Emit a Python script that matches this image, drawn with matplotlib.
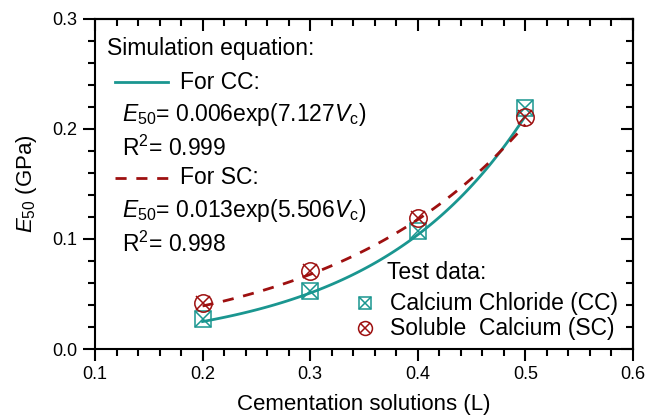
import matplotlib.pyplot as plt
import numpy as np
from matplotlib.ticker import MultipleLocator

plt.rcParams['font.family'] = ['Liberation Sans', 'DejaVu Sans']
plt.rcParams['mathtext.fontset'] = 'custom'
plt.rcParams['mathtext.rm'] = 'Liberation Sans'
plt.rcParams['mathtext.it'] = 'Liberation Sans:italic'

# test data
volume = [0.2, 0.3, 0.4, 0.5]
e50_cc = [0.027, 0.053, 0.107, 0.219]
e50_sc = [0.042, 0.071, 0.119, 0.211]

# fitted equations E50 = a*exp(b*Vc)
fit_cc = [0.006, 7.127]
fit_sc = [0.013, 5.506]

teal = '#1a9690'
dred = '#9e1010'

fig = plt.figure(figsize=(6.62, 4.19), dpi=100)
ax = fig.add_axes([0.1435, 0.167, 0.8125, 0.788])

xx = np.linspace(volume[0], volume[-1], 100)
ax.plot(xx, fit_cc[0] * np.exp(fit_cc[1] * xx), color=teal, lw=2)
ax.plot(xx, fit_sc[0] * np.exp(fit_sc[1] * xx), color=dred, lw=2, dashes=(4, 3.5))

def box_x(axis, x, y, c, ms, **kw):
    axis.plot(x, y, ls='none', marker='s', ms=ms, mfc='none', mec=c, mew=1.1, **kw)
    axis.plot(x, y, ls='none', marker='x', ms=ms, mec=c, mew=1.1, **kw)

def circ_x(axis, x, y, c, ms, **kw):
    axis.plot(x, y, ls='none', marker='o', ms=ms, mfc='none', mec=c, mew=1.1, **kw)
    axis.plot(x, y, ls='none', marker='x', ms=ms * 0.78, mec=c, mew=1.1, **kw)

box_x(ax, volume, e50_cc, teal, 11.5)
circ_x(ax, volume, e50_sc, dred, 12.5)

ax.set_xlim(0.1, 0.6)
ax.set_ylim(0, 0.3)
ax.xaxis.set_minor_locator(MultipleLocator(0.02))
ax.yaxis.set_minor_locator(MultipleLocator(0.02))
ax.set_xticks([0.1, 0.2, 0.3, 0.4, 0.5, 0.6], ['0.1', '0.2', '0.3', '0.4', '0.5', '0.6'])
ax.set_yticks([0.0, 0.1, 0.2, 0.3], ['0.0', '0.1', '0.2', '0.3'])
ax.tick_params(which='major', direction='out', length=8.5, width=1.5, labelsize=13, pad=4)
ax.tick_params(which='minor', direction='out', length=5, width=1.5)
for s in ax.spines.values():
    s.set_linewidth(1.5)

top = ax.secondary_xaxis('top')
top.xaxis.set_major_locator(MultipleLocator(0.1))
top.xaxis.set_minor_locator(MultipleLocator(0.02))
top.tick_params(which='major', direction='in', length=8.5, width=1.5, labeltop=False)
top.tick_params(which='minor', direction='in', length=5, width=1.5)
right = ax.secondary_yaxis('right')
right.yaxis.set_major_locator(MultipleLocator(0.1))
right.yaxis.set_minor_locator(MultipleLocator(0.02))
right.tick_params(which='major', direction='in', length=8.5, width=1.5, labelright=False)
right.tick_params(which='minor', direction='in', length=5, width=1.5)
for sa in (top, right):
    for s in sa.spines.values():
        s.set_linewidth(1.5)

ax.set_xlabel('Cementation solutions (L)', fontsize=16)
ax.set_ylabel(r'$\mathit{E}_{50}$ (GPa)', fontsize=16)
ax.xaxis.set_label_coords(0.5, -0.135)
ax.yaxis.set_label_coords(-0.105, 0.5)

# annotation block (pixel coords converted to figure fraction)
W, H = 662, 419
fs = 16.5
def ftxt(x, y, s, **kw):
    fig.text(x / W, 1 - y / H, s, va='center', ha='left', fontsize=fs, **kw)

def fline(x0, x1, y, **kw):
    fig.add_artist(plt.Line2D([x0 / W, x1 / W], [1 - y / H, 1 - y / H], **kw))

ftxt(107, 48, 'Simulation equation:')
fline(115, 168, 82, color=teal, lw=2)
ftxt(180, 82, 'For CC:')
ftxt(122, 114, r'$\mathit{E}_{50}$= 0.006exp(7.127$\mathit{V}_{\mathrm{c}}$)')
ftxt(122, 148, r'R$^{2}$= 0.999')
fline(115, 168, 178, color=dred, lw=2, dashes=(4, 3.5))
ftxt(180, 178, 'For SC:')
ftxt(122, 210, r'$\mathit{E}_{50}$= 0.013exp(5.506$\mathit{V}_{\mathrm{c}}$)')
ftxt(122, 244, r'R$^{2}$= 0.998')

# legend for test data
leg = fig.add_axes([0, 0, 1, 1], facecolor='none')
leg.set_xlim(0, W)
leg.set_ylim(H, 0)
leg.axis('off')
ftxt(387, 272, 'Test data:')
box_x(leg, [365], [303], teal, 9)
ftxt(390, 303, 'Calcium Chloride (CC)')
circ_x(leg, [365], [328], dred, 10)
ftxt(390, 328, 'Soluble  Calcium (SC)')

fig.savefig('out.png', dpi=100)
